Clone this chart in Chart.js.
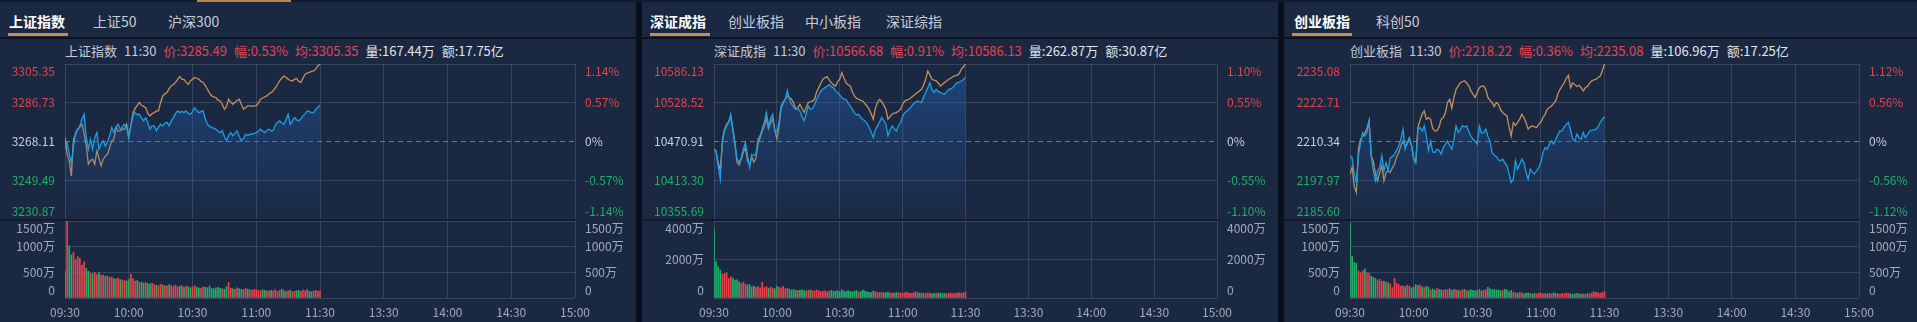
<!DOCTYPE html>
<html>
<head>
<meta charset="utf-8">
<script src="https://cdn.jsdelivr.net/npm/chart.js@4.4.1/dist/chart.umd.min.js"></script>
<style>
  body { margin: 0; width: 1917px; height: 322px; background: #0b101d; position: relative; overflow: hidden;
         font-family: 'Noto Sans CJK SC', 'Noto Sans', sans-serif; }
  .strip { position: absolute; left: 0; top: 0; width: 1917px; height: 2px; background: #111a2d; }
  .strip i { position: absolute; top: 0; height: 3px; background: #b98752; }
  .panel { position: absolute; top: 2px; height: 320px; background: #1b2842; }
  .sep { position: absolute; left: 0; right: 0; top: 34.5px; height: 2px; background: #0c1322; }
  .tab { position: absolute; top: 9px; font-size: 14px; line-height: 20px; color: #c7cdd8; white-space: nowrap; }
  .tab.on { color: #fff; font-weight: bold; }
  .uline { position: absolute; top: 31px; height: 2.5px; background: #c48f57; }
  .info { position: absolute; top: 39px; font-size: 13px; line-height: 19px; white-space: nowrap; color: #c5cad4; }
  .info span { margin-right: 7px; }
  .info .r { color: #e3444e; }
  .info .w { color: #e2e5ea; }
  .vsep { position: absolute; top: 217px; height: 2px; background: #141b2c; }
  canvas { position: absolute; left: 0; }
</style>
</head>
<body>
<div class="strip"><i style="left:197px;width:94px"></i></div>

<div class="panel" style="left:0;width:636px">
  <div class="tab on" style="left:9px">上证指数</div>
  <div class="tab" style="left:93px">上证50</div>
  <div class="tab" style="left:168px">沪深300</div>
  <div class="uline" style="left:8px;width:60px"></div>
  <div class="sep"></div>
  <div class="info" style="left:65px"><span>上证指数</span><span>11:30</span><span class="r">价:3285.49</span><span class="r">幅:0.53%</span><span class="r">均:3305.35</span><span class="w">量:167.44万</span><span class="w">额:17.75亿</span></div>
  <canvas id="shPriceChart" width="636" height="166" style="top:56px"></canvas>
  <canvas id="shVolChart" width="636" height="108" style="top:212px"></canvas>
  <div class="vsep" style="left:0;width:575px"></div>
</div>

<div class="panel" style="left:642px;width:636px">
  <div class="tab on" style="left:8px">深证成指</div>
  <div class="tab" style="left:86px">创业板指</div>
  <div class="tab" style="left:163px">中小板指</div>
  <div class="tab" style="left:244px">深证综指</div>
  <div class="uline" style="left:8px;width:60px"></div>
  <div class="sep"></div>
  <div class="info" style="left:72px"><span>深证成指</span><span>11:30</span><span class="r">价:10566.68</span><span class="r">幅:0.91%</span><span class="r">均:10586.13</span><span class="w">量:262.87万</span><span class="w">额:30.87亿</span></div>
  <canvas id="szPriceChart" width="636" height="166" style="top:56px"></canvas>
  <canvas id="szVolChart" width="636" height="108" style="top:212px"></canvas>
  <div class="vsep" style="left:0;width:575px"></div>
</div>

<div class="panel" style="left:1284px;width:633px">
  <div class="tab on" style="left:10px">创业板指</div>
  <div class="tab" style="left:92px">科创50</div>
  <div class="uline" style="left:8px;width:60px"></div>
  <div class="sep"></div>
  <div class="info" style="left:66px"><span>创业板指</span><span>11:30</span><span class="r">价:2218.22</span><span class="r">幅:0.36%</span><span class="r">均:2235.08</span><span class="w">量:106.96万</span><span class="w">额:17.25亿</span></div>
  <canvas id="cyPriceChart" width="633" height="166" style="top:56px"></canvas>
  <canvas id="cyVolChart" width="633" height="108" style="top:212px"></canvas>
  <div class="vsep" style="left:0;width:575px"></div>
</div>

<script>
// x axis: 240 trading minutes, labelled every half hour
const xTickLabels = ['09:30', '10:00', '10:30', '11:00', '11:30', '13:30', '14:00', '14:30', '15:00'];

// 上证指数
const shPriceTicks = [3305.35, 3286.73, 3268.11, 3249.49, 3230.87];
const shPctTicks = ['1.14%', '0.57%', '0%', '-0.57%', '-1.14%'];
const shVolTicks = [1500, 1000, 500, 0];
const shVolLabels = ['1500万', '1000万', '500万', '0'];
const shPrice = [
  3264.4, 3267.6, 3262.0, 3258.0, 3266.0, 3272.4, 3274.0, 3275.6, 3279.0, 3281.2,
  3270.0, 3264.4, 3269.2, 3264.4, 3270.0, 3272.4, 3264.4, 3267.0, 3268.4, 3266.0,
  3268.0, 3270.8, 3274.8, 3272.4, 3275.0, 3276.4, 3274.0, 3275.2, 3276.4, 3275.0,
  3270.0, 3276.0, 3280.5, 3282.0, 3281.0, 3281.2, 3279.5, 3278.0, 3279.6, 3277.0,
  3274.0, 3275.6, 3275.6, 3273.2, 3275.0, 3276.4, 3275.5, 3277.0, 3277.2, 3275.6,
  3278.0, 3279.6, 3281.5, 3282.8, 3282.0, 3282.5, 3282.0, 3282.8, 3281.5, 3281.2,
  3282.5, 3284.4, 3283.0, 3282.0, 3282.5, 3282.8, 3279.0, 3276.4, 3275.5, 3274.8,
  3274.5, 3274.0, 3273.0, 3272.4, 3273.2, 3270.5, 3268.4, 3271.0, 3272.4, 3270.8,
  3272.0, 3273.2, 3270.5, 3268.4, 3269.5, 3271.6, 3271.0, 3271.6, 3271.6, 3272.0,
  3272.4, 3273.0, 3274.0, 3273.0, 3272.4, 3273.5, 3274.0, 3273.2, 3273.5, 3276.0,
  3277.2, 3278.0, 3277.0, 3276.4, 3278.5, 3281.2, 3276.4, 3278.0, 3279.6, 3278.5,
  3278.0, 3279.0, 3280.4, 3281.5, 3282.8, 3282.5, 3282.0, 3282.0, 3283.5, 3284.5,
  3285.49
];
const shAvg = [
  3270.0, 3262.0, 3258.8, 3251.6, 3269.2, 3271.5, 3274.0, 3275.0, 3276.4, 3272.0,
  3266.0, 3257.2, 3259.0, 3259.6, 3257.2, 3263.6, 3260.0, 3256.4, 3259.6, 3261.0,
  3262.0, 3265.2, 3268.4, 3269.2, 3274.8, 3273.0, 3273.2, 3274.0, 3274.0, 3276.4,
  3270.0, 3276.0, 3282.0, 3284.0, 3285.5, 3286.8, 3285.5, 3285.0, 3284.4, 3281.5,
  3280.4, 3281.5, 3282.0, 3282.8, 3282.8, 3287.0, 3290.0, 3291.0, 3291.6, 3293.5,
  3294.8, 3295.5, 3296.5, 3298.0, 3299.3, 3298.0, 3298.0, 3296.5, 3295.6, 3297.2,
  3298.0, 3298.9, 3298.5, 3298.0, 3297.0, 3296.5, 3295.0, 3293.2, 3291.5, 3290.0,
  3289.5, 3289.2, 3288.0, 3287.6, 3286.0, 3283.6, 3285.0, 3288.4, 3287.0, 3286.0,
  3287.0, 3287.8, 3288.4, 3286.0, 3283.6, 3284.5, 3285.2, 3285.2, 3285.0, 3285.2,
  3285.2, 3286.5, 3288.4, 3289.0, 3289.5, 3290.0, 3291.0, 3291.6, 3292.5, 3294.0,
  3295.5, 3297.2, 3298.5, 3299.6, 3299.0, 3298.0, 3297.5, 3297.2, 3298.0, 3298.4,
  3297.0, 3296.5, 3298.5, 3300.4, 3301.0, 3301.3, 3301.8, 3302.0, 3303.0, 3304.4,
  3305.35
];
const shVol = [
  526, 1500, 1013, 838, 890, 753, 805, 773, 643, 708,
  578, 520, 480, 470, 500, 455, 493, 440, 450, 420,
  430, 400, 410, 380, 370, 390, 360, 350, 340, 330,
  360, 467, 380, 330, 340, 300, 310, 290, 300, 280,
  270, 290, 260, 250, 240, 270, 250, 240, 230, 260,
  240, 230, 250, 220, 230, 240, 210, 230, 220, 200,
  220, 240, 210, 200, 190, 220, 210, 200, 230, 190,
  180, 200, 210, 190, 180, 170, 220, 300, 190, 180,
  170, 200, 180, 170, 160, 190, 170, 160, 150, 170,
  160, 150, 140, 160, 150, 140, 130, 150, 140, 160,
  130, 150, 170, 140, 130, 140, 150, 120, 130, 140,
  150, 130, 160, 140, 170, 130, 120, 140, 150, 130,
  140
];

// 深证成指
const szPriceTicks = [10586.13, 10528.52, 10470.91, 10413.30, 10355.69];
const szPctTicks = ['1.10%', '0.55%', '0%', '-0.55%', '-1.10%'];
const szVolTicks = [4000, 2000, 0];
const szVolLabels = ['4000万', '2000万', '0'];
const szPrice = [
  10459.5, 10457.0, 10435.0, 10415.0, 10475.0, 10489.2, 10496.6, 10500.0, 10511.4, 10490.0,
  10469.4, 10445.0, 10439.8, 10447.2, 10460.0, 10469.4, 10450.0, 10432.3, 10452.0, 10450.0,
  10452.1, 10474.3, 10480.0, 10489.2, 10500.0, 10513.9, 10494.1, 10505.0, 10511.4, 10486.6,
  10484.3, 10500.0, 10523.7, 10530.0, 10533.7, 10547.0, 10533.7, 10526.3, 10522.0, 10518.8,
  10520.0, 10516.3, 10508.0, 10501.5, 10512.0, 10523.7, 10518.8, 10520.0, 10526.0, 10533.7,
  10540.0, 10546.0, 10549.0, 10551.0, 10553.0, 10555.9, 10552.0, 10551.0, 10546.0, 10543.6,
  10540.0, 10536.2, 10534.0, 10533.7, 10528.0, 10523.7, 10518.8, 10513.9, 10510.0, 10511.4,
  10506.0, 10504.0, 10501.5, 10498.0, 10491.7, 10485.0, 10476.9, 10488.0, 10494.1, 10500.0,
  10506.5, 10502.0, 10496.6, 10479.2, 10488.0, 10494.1, 10490.0, 10486.6, 10494.0, 10499.1,
  10508.0, 10513.9, 10516.0, 10518.8, 10522.0, 10526.3, 10529.0, 10531.2, 10530.0, 10528.8,
  10537.0, 10543.6, 10551.0, 10558.5, 10548.0, 10543.6, 10548.5, 10545.0, 10543.6, 10542.0,
  10541.1, 10545.0, 10548.5, 10549.0, 10551.0, 10555.0, 10558.5, 10559.0, 10560.8, 10563.0,
  10566.68
];
const szAvg = [
  10459.5, 10456.0, 10440.0, 10428.0, 10470.0, 10487.0, 10494.0, 10500.0, 10508.0, 10488.0,
  10466.0, 10440.0, 10436.0, 10445.0, 10455.0, 10462.0, 10442.0, 10436.0, 10448.0, 10440.0,
  10446.0, 10468.0, 10476.0, 10486.0, 10494.0, 10505.0, 10490.0, 10498.0, 10505.0, 10488.0,
  10475.0, 10492.0, 10520.0, 10528.0, 10533.7, 10538.6, 10536.0, 10533.7, 10528.0, 10518.8,
  10521.0, 10526.3, 10520.0, 10514.0, 10522.0, 10528.8, 10530.0, 10531.2, 10533.7, 10545.0,
  10551.0, 10558.0, 10563.4, 10566.0, 10567.4, 10562.0, 10558.5, 10555.0, 10553.4, 10560.0,
  10563.4, 10573.3, 10565.0, 10558.5, 10555.0, 10553.4, 10545.0, 10538.6, 10535.0, 10533.7,
  10532.0, 10531.2, 10527.0, 10523.7, 10518.8, 10512.0, 10504.0, 10520.0, 10528.8, 10533.7,
  10530.0, 10525.0, 10518.8, 10504.0, 10508.0, 10511.4, 10513.0, 10513.9, 10516.0, 10518.8,
  10526.0, 10531.2, 10532.5, 10533.7, 10536.0, 10538.6, 10541.0, 10543.6, 10546.0, 10548.5,
  10555.0, 10563.4, 10575.7, 10570.0, 10563.4, 10562.0, 10561.0, 10558.0, 10553.4, 10556.0,
  10558.5, 10561.0, 10563.4, 10565.0, 10567.4, 10569.0, 10569.3, 10572.0, 10578.2, 10582.0,
  10586.13
];
const szVol = [
  3569, 1879, 1620, 1448, 1241, 1276, 1310, 1017, 1103, 1017,
  931, 950, 845, 759, 820, 724, 672, 700, 586, 620,
  560, 590, 520, 820, 540, 600, 500, 560, 520, 480,
  600, 560, 520, 600, 480, 500, 460, 420, 440, 400,
  380, 400, 420, 380, 360, 400, 410, 380, 360, 420,
  380, 340, 360, 380, 320, 360, 400, 340, 360, 380,
  320, 420, 360, 340, 380, 340, 320, 360, 380, 300,
  340, 420, 360, 320, 300, 280, 360, 320, 300, 280,
  300, 260, 280, 300, 270, 260, 250, 280, 270, 260,
  250, 270, 300, 260, 240, 250, 320, 280, 260, 240,
  250, 230, 260, 240, 220, 240, 230, 260, 250, 230,
  240, 220, 260, 250, 230, 240, 260, 270, 250, 280,
  290
];

// 创业板指
const cyPriceTicks = [2235.08, 2222.71, 2210.34, 2197.97, 2185.60];
const cyPctTicks = ['1.12%', '0.56%', '0%', '-0.56%', '-1.12%'];
const cyVolTicks = [1500, 1000, 500, 0];
const cyVolLabels = ['1500万', '1000万', '500万', '0'];
const cyPrice = [
  2205.8, 2205.2, 2199.9, 2197.3, 2206.0, 2210.0, 2213.2, 2212.0, 2213.2, 2216.9,
  2205.8, 2201.0, 2197.8, 2201.0, 2202.0, 2205.8, 2201.0, 2203.6, 2201.0, 2205.2,
  2205.5, 2206.3, 2207.5, 2209.0, 2211.1, 2214.3, 2207.9, 2210.0, 2211.6, 2209.0,
  2205.0, 2203.6, 2214.3, 2214.8, 2213.7, 2215.3, 2212.1, 2207.4, 2210.5, 2207.0,
  2206.8, 2207.9, 2207.5, 2206.3, 2208.5, 2209.5, 2210.5, 2209.0, 2207.9, 2211.0,
  2215.3, 2213.2, 2214.0, 2215.3, 2215.0, 2215.3, 2213.5, 2212.1, 2211.0, 2210.5,
  2209.5, 2215.3, 2213.0, 2213.2, 2214.3, 2212.0, 2210.5, 2206.8, 2206.0, 2205.5,
  2204.5, 2204.2, 2204.7, 2203.5, 2202.6, 2200.0, 2197.3, 2198.3, 2204.2, 2201.5,
  2203.0, 2204.7, 2203.6, 2200.5, 2198.3, 2201.5, 2200.5, 2200.0, 2201.0, 2202.0,
  2203.6, 2206.8, 2208.4, 2207.9, 2209.5, 2210.5, 2209.5, 2211.0, 2212.5, 2213.7,
  2213.7, 2215.0, 2215.8, 2216.4, 2214.0, 2211.1, 2210.5, 2212.7, 2211.6, 2211.1,
  2213.2, 2211.6, 2212.5, 2213.7, 2214.0, 2214.0, 2214.3, 2215.0, 2216.4, 2217.5,
  2218.22
];
const cyAvg = [
  2199.9, 2202.1, 2196.0, 2194.1, 2208.0, 2211.0, 2212.1, 2213.0, 2214.5, 2216.9,
  2205.8, 2204.0, 2200.0, 2197.8, 2200.5, 2202.6, 2197.8, 2200.5, 2201.0, 2200.5,
  2202.0, 2203.1, 2205.5, 2206.8, 2209.0, 2210.5, 2209.0, 2209.5, 2211.1, 2209.0,
  2205.0, 2203.6, 2214.8, 2217.0, 2219.0, 2220.1, 2217.4, 2218.0, 2217.4, 2214.5,
  2213.7, 2213.7, 2215.0, 2217.4, 2218.0, 2219.6, 2222.8, 2223.8, 2221.0, 2224.4,
  2227.0, 2228.0, 2229.1, 2229.5, 2229.7, 2229.0, 2228.1, 2226.5, 2225.4, 2224.4,
  2226.0, 2227.5, 2228.0, 2228.1, 2227.0, 2224.4, 2223.5, 2222.8, 2221.5, 2222.8,
  2222.2, 2220.5, 2219.6, 2219.0, 2218.5, 2215.0, 2212.1, 2216.4, 2215.5, 2216.4,
  2217.5, 2219.0, 2218.0, 2216.4, 2214.3, 2215.0, 2215.3, 2215.0, 2214.8, 2215.8,
  2216.5, 2218.0, 2219.0, 2220.6, 2221.2, 2221.7, 2222.5, 2223.3, 2225.5, 2227.0,
  2228.0, 2229.1, 2230.5, 2231.5, 2227.5, 2229.1, 2228.5, 2227.9, 2228.3, 2227.5,
  2226.5, 2227.5, 2228.0, 2229.0, 2229.7, 2230.0, 2230.2, 2230.8, 2231.2, 2233.0,
  2235.08
];
const cyVol = [
  1462, 815, 692, 673, 530, 492, 530, 563, 492, 479,
  427, 401, 382, 350, 362, 324, 330, 311, 298, 272,
  200, 382, 285, 259, 233, 240, 220, 250, 230, 200,
  210, 260, 240, 250, 220, 200, 230, 210, 160, 180,
  150, 190, 170, 160, 150, 170, 160, 180, 150, 170,
  160, 150, 140, 160, 170, 150, 140, 160, 150, 140,
  150, 170, 140, 150, 160, 207, 180, 160, 170, 150,
  160, 140, 150, 170, 160, 120, 150, 110, 100, 90,
  110, 100, 80, 90, 100, 90, 80, 90, 80, 100,
  90, 80, 90, 80, 90, 80, 100, 90, 80, 70,
  90, 80, 100, 90, 80, 70, 80, 90, 80, 70,
  80, 70, 90, 80, 100, 120, 110, 100, 90, 110,
  120
];

const RED = '#e3444e';
const GREEN = '#1fae68';
const ZERO_TXT = '#c9ced8';
const AXIS_TXT = '#a3aab8';
const GRID = 'rgba(130,145,175,0.28)';
const ZERO_LINE = 'rgba(150,155,165,0.7)';
const BAR_RED = '#e8434b';
const BAR_GREEN = '#22b26c';

Chart.defaults.font.family = "'Noto Sans CJK SC', 'Noto Sans', sans-serif";
Chart.defaults.font.size = 12;
Chart.defaults.animation = false;

const panels = [
  { price: 'shPriceChart', vol: 'shVolChart', width: 636, left: 65, plotW: 510,
    priceData: shPrice, avgData: shAvg, volData: shVol,
    priceTicks: shPriceTicks, pctTicks: shPctTicks, volTicks: shVolTicks, volLabels: shVolLabels },
  { price: 'szPriceChart', vol: 'szVolChart', width: 636, left: 72, plotW: 503,
    priceData: szPrice, avgData: szAvg, volData: szVol,
    priceTicks: szPriceTicks, pctTicks: szPctTicks, volTicks: szVolTicks, volLabels: szVolLabels },
  { price: 'cyPriceChart', vol: 'cyVolChart', width: 633, left: 66, plotW: 509,
    priceData: cyPrice, avgData: cyAvg, volData: cyVol,
    priceTicks: cyPriceTicks, pctTicks: cyPctTicks, volTicks: cyVolTicks, volLabels: cyVolLabels }
];

function toXY(arr) {
  return arr.map((v, i) => ({ x: i, y: v }));
}

// top label pushed down, bottom label pushed up (stays inside the plot)
function edgeLabel(label, v, lo, hi) {
  if (v === hi) return ['', label];
  if (v === lo) return [label, ''];
  return label;
}

function areaFill(ctx) {
  const area = ctx.chart.chartArea;
  if (!area) return 'transparent';
  const g = ctx.chart.ctx.createLinearGradient(0, area.top, 0, area.bottom);
  g.addColorStop(0, 'rgba(38,104,190,0.45)');
  g.addColorStop(1, 'rgba(38,104,190,0.02)');
  return g;
}

function xAxis(showLabels) {
  return {
    type: 'linear', min: 0, max: 240, offset: false,
    afterFit: s => { s.height = showLabels ? 22 : 0; s.paddingLeft = 0; s.paddingRight = 0; },
    ticks: {
      display: showLabels, stepSize: 30, autoSkip: false, maxRotation: 0, padding: 7,
      color: AXIS_TXT, callback: v => xTickLabels[v / 30]
    },
    grid: { color: GRID, drawTicks: false, offset: false },
    border: { display: false }
  };
}

function sideWidth(p, side) {
  return side === 'left' ? p.left : p.width - p.left - p.plotW;
}

function priceAxis(p, side, labels) {
  const ticks = p.priceTicks;
  const hi = ticks[0], lo = ticks[ticks.length - 1], base = ticks[2];
  return {
    position: side, min: lo, max: hi,
    afterFit: s => { s.width = sideWidth(p, side); s.paddingTop = 0; s.paddingBottom = 0; },
    afterBuildTicks: s => { s.ticks = ticks.slice().reverse().map(v => ({ value: v })); },
    ticks: {
      padding: 10, autoSkip: false,
      color: c => c.tick.value > base ? RED : (c.tick.value < base ? GREEN : ZERO_TXT),
      callback: v => edgeLabel(labels[ticks.indexOf(v)], v, lo, hi)
    },
    grid: {
      drawOnChartArea: side === 'left', drawTicks: false,
      color: c => (c.tick && c.tick.value === base) ? ZERO_LINE : GRID
    },
    border: { display: false, dash: c => (c.tick && c.tick.value === base) ? [5, 4] : [] }
  };
}

function volAxis(p, side) {
  const ticks = p.volTicks;
  const hi = ticks[0], lo = ticks[ticks.length - 1];
  return {
    position: side, min: lo, max: hi,
    afterFit: s => { s.width = sideWidth(p, side); s.paddingTop = 0; s.paddingBottom = 0; },
    afterBuildTicks: s => { s.ticks = ticks.slice().reverse().map(v => ({ value: v })); },
    ticks: {
      padding: 10, autoSkip: false, color: AXIS_TXT,
      callback: v => edgeLabel(p.volLabels[ticks.indexOf(v)], v, lo, hi)
    },
    grid: { drawOnChartArea: side === 'left', drawTicks: false, color: GRID },
    border: { display: false }
  };
}

panels.forEach(p => {
  const base = p.priceTicks[2];

  // price + average line
  new Chart(document.getElementById(p.price), {
    type: 'line',
    data: {
      datasets: [{
        data: toXY(p.priceData),
        borderColor: '#1c9fe3',
        borderWidth: 1.3,
        pointRadius: 0,
        tension: 0,
        fill: 'start',
        backgroundColor: areaFill
      }, {
        data: toXY(p.avgData),
        borderColor: '#c39259',
        borderWidth: 1.3,
        pointRadius: 0,
        tension: 0,
        fill: false
      }]
    },
    options: {
      responsive: false,
      events: [],
      layout: { padding: { top: 6, bottom: 5 } },
      plugins: { legend: { display: false }, tooltip: { enabled: false } },
      scales: {
        x: xAxis(false),
        y: priceAxis(p, 'left', p.priceTicks.map(v => v.toFixed(2))),
        yR: priceAxis(p, 'right', p.pctTicks)
      }
    }
  });

  // volume bars, red when the minute closed up
  const barColors = p.priceData.map((v, i) => v >= (i ? p.priceData[i - 1] : base) ? BAR_RED : BAR_GREEN);
  new Chart(document.getElementById(p.vol), {
    type: 'bar',
    data: {
      datasets: [{
        data: toXY(p.volData),
        backgroundColor: barColors,
        barThickness: 1
      }]
    },
    options: {
      responsive: false,
      events: [],
      layout: { padding: { top: 7, bottom: 2 } },
      plugins: { legend: { display: false }, tooltip: { enabled: false } },
      scales: {
        x: xAxis(true),
        y: volAxis(p, 'left'),
        yR: volAxis(p, 'right')
      }
    }
  });
});
</script>
</body>
</html>
